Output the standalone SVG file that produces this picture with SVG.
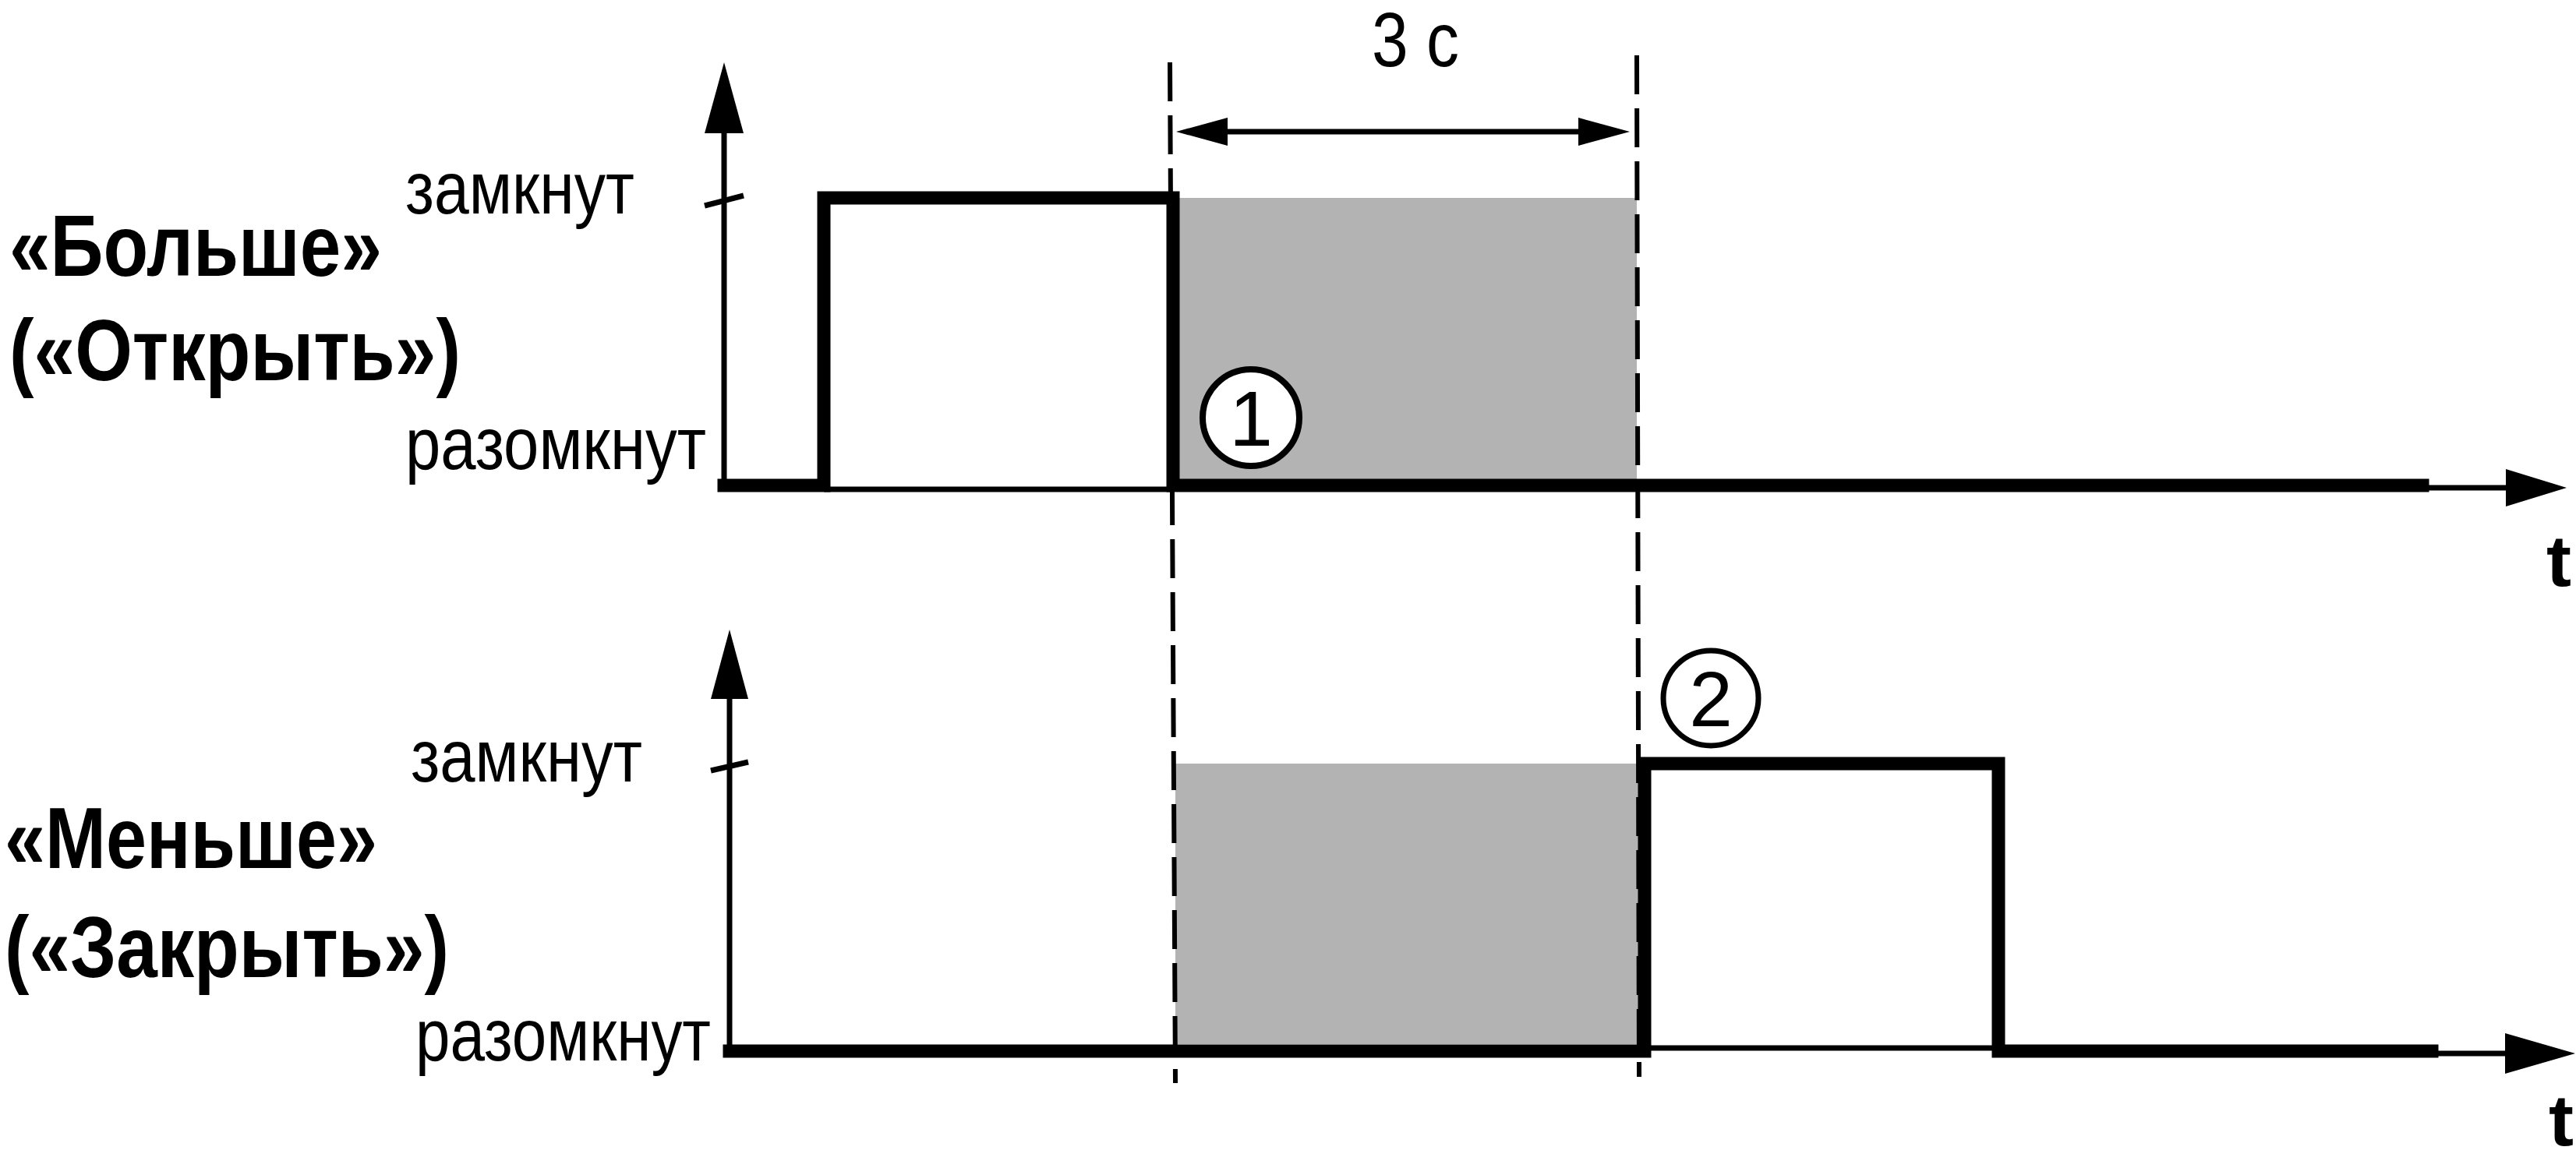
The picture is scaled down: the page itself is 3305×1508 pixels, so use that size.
<svg xmlns="http://www.w3.org/2000/svg" width="3305" height="1508" viewBox="0 0 3305 1508">
<style>
.lbl{font-family:"Liberation Sans Narrow","Liberation Sans",Arial,sans-serif;fill:#000}
.b{font-weight:bold}
.thin{stroke:#000;stroke-width:7;fill:none}
.thick{stroke:#000;stroke-width:17;fill:none;stroke-linejoin:miter;stroke-linecap:square}
.dash{stroke:#000;stroke-width:6;fill:none;stroke-dasharray:50 18}
.gray{fill:#b3b3b3}
</style>
<rect width="3305" height="1508" fill="#fff"/>
<g id="shading">
<rect class="gray" x="1505" y="254" width="595" height="361"/>
<rect class="gray" x="1508" y="980" width="595" height="360"/>
</g>
<g id="labels">
<text class="lbl" x="520" y="274" font-size="95" textLength="294" lengthAdjust="spacingAndGlyphs">замкнут</text>
<text class="lbl" x="520" y="602" font-size="95" textLength="386" lengthAdjust="spacingAndGlyphs">разомкнут</text>
<text class="lbl b" x="12" y="354" font-size="112" textLength="478" lengthAdjust="spacingAndGlyphs">«Больше»</text>
<text class="lbl b" x="12" y="488" font-size="112" textLength="579" lengthAdjust="spacingAndGlyphs">(«Открыть»)</text>
<text class="lbl" x="527" y="1003" font-size="95" textLength="297" lengthAdjust="spacingAndGlyphs">замкнут</text>
<text class="lbl" x="533" y="1361" font-size="95" textLength="379" lengthAdjust="spacingAndGlyphs">разомкнут</text>
<text class="lbl b" x="6" y="1114" font-size="112" textLength="478" lengthAdjust="spacingAndGlyphs">«Меньше»</text>
<text class="lbl b" x="6" y="1254" font-size="112" textLength="570" lengthAdjust="spacingAndGlyphs">(«Закрыть»)</text>
<text class="lbl" x="1816" y="85" font-size="98" text-anchor="middle" textLength="112" lengthAdjust="spacingAndGlyphs">3 с</text>
<text class="lbl b" x="3267" y="752" font-size="92" textLength="32" lengthAdjust="spacingAndGlyphs">t</text>
<text class="lbl b" x="3270" y="1470" font-size="92" textLength="32" lengthAdjust="spacingAndGlyphs">t</text>
</g>
<g id="axis-top">
<line class="thin" x1="929" y1="625" x2="929" y2="165"/>
<polygon points="929,80 904,171 954,171"/>
<line class="thin" x1="904" y1="264" x2="954" y2="251"/>
<line class="thin" x1="3100" y1="626" x2="3215" y2="626"/>
<polygon points="3293,626 3215,602 3215,650"/>
</g>
<g id="axis-bottom">
<line class="thin" x1="936" y1="1352" x2="936" y2="890"/>
<polygon points="936,808 912,897 960,897"/>
<line class="thin" x1="912" y1="989" x2="960" y2="978"/>
<line class="thin" x1="3110" y1="1352" x2="3215" y2="1352"/>
<polygon points="3304,1352 3214,1326 3214,1378"/>
</g>
<g id="signal-top">
<polyline class="thick" points="929,623 1057,623 1057,254 1505,254 1505,623 3108,623"/>
<line class="thin" x1="1057" y1="628" x2="1505" y2="628"/>
</g>
<g id="signal-bottom">
<polyline class="thick" points="936,1349 2110,1349 2110,980 2564,980 2564,1349 3120,1349"/>
<line class="thin" x1="2110" y1="1345" x2="2564" y2="1345"/>
</g>
<g id="markers">
<g id="m1"><circle cx="1605" cy="536" r="62" fill="#fff" stroke="#000" stroke-width="8"/>
<text class="lbl" x="1605" y="572" font-size="100" text-anchor="middle">1</text></g>
<g id="m2"><circle cx="2195" cy="896" r="61" fill="#fff" stroke="#000" stroke-width="7"/>
<text class="lbl" x="2195" y="932" font-size="100" text-anchor="middle">2</text></g>
</g>
<g id="connectors">
<line class="dash" x1="1501" y1="80" x2="1508" y2="1390"/>
<line class="dash" x1="2100" y1="71" x2="2103" y2="1382"/>
<line class="thin" x1="1560" y1="169" x2="2030" y2="169"/>
<polygon points="1509,169 1575,151 1575,187"/>
<polygon points="2091,169 2025,151 2025,187"/>
</g>
</svg>
